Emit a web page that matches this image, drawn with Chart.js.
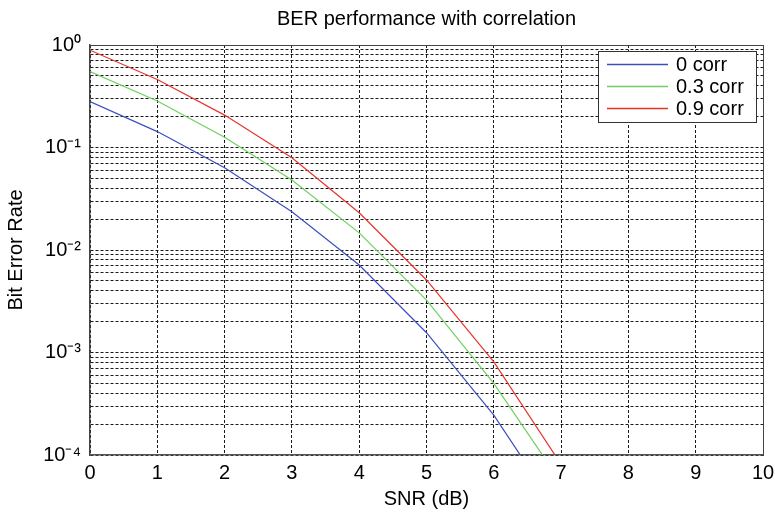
<!DOCTYPE html>
<html>
<head>
<meta charset="utf-8">
<script src="https://cdn.jsdelivr.net/npm/chart.js@4/dist/chart.umd.min.js"></script>
<style>
  html, body { margin: 0; padding: 0; background: #fff; }
  #wrap { width: 775px; height: 513px; }
</style>
</head>
<body>
<div id="wrap"><canvas id="c" width="775" height="513"></canvas></div>
<script>
// ---- data ----
const snr = [0, 1, 2, 3, 4, 5, 6, 7];
const ber0 = [0.28, 0.143, 0.0635, 0.0236, 0.00714, 0.00156, 0.000245, 0.000025];
const ber03 = [0.55, 0.284, 0.126, 0.0482, 0.0147, 0.00325, 0.0005, 0.000054];
const ber09 = [0.89, 0.46, 0.207, 0.0795, 0.0231, 0.0051, 0.00081, 0.000081];
const seriesLabels = ['0 corr', '0.3 corr', '0.9 corr'];
const xTicks = [0, 1, 2, 3, 4, 5, 6, 7, 8, 9, 10];
const yDecades = [1e-4, 1e-3, 1e-2, 1e-1, 1];
const yDecadeLabels = ['10\u207B\u2074', '10\u207B\u00B3', '10\u207B\u00B2', '10\u207B\u00B9', '10\u2070'];
const yGridValues = [
  1e-4, 2e-4, 3e-4, 4e-4, 5e-4, 6e-4, 7e-4, 8e-4, 9e-4,
  1e-3, 2e-3, 3e-3, 4e-3, 5e-3, 6e-3, 7e-3, 8e-3, 9e-3,
  1e-2, 2e-2, 3e-2, 4e-2, 5e-2, 6e-2, 7e-2, 8e-2, 9e-2,
  1e-1, 2e-1, 3e-1, 4e-1, 5e-1, 6e-1, 7e-1, 8e-1, 9e-1,
  1
];
const titleText = 'BER performance with correlation';
const xTitle = 'SNR (dB)';
const yTitle = 'Bit Error Rate';

// ---- styling ----
const FONT = 'Liberation Sans, Arial, Helvetica, sans-serif';
const FS = 20;
const colors = ['#3a4fbf', '#6fd05f', '#e8332b'];
const gridColor = '#1a1a1a';

function toPts(vals) { return snr.map((x, i) => ({ x: x, y: vals[i] })); }

const legendPlugin = {
  id: 'boxLegend',
  afterDraw(chart) {
    const { ctx, chartArea: a } = chart;
    const w = 158, h = 71;
    const x = Math.round(a.right - 7 - w), y = Math.round(a.top + 6);
    ctx.save();
    ctx.fillStyle = '#fff';
    ctx.fillRect(x, y, w, h);
    ctx.strokeStyle = '#333';
    ctx.lineWidth = 1;
    ctx.strokeRect(x + 0.5, y + 0.5, w, h);
    ctx.font = FS + 'px ' + FONT;
    ctx.textBaseline = 'middle';
    ctx.textAlign = 'left';
    chart.data.datasets.forEach((ds, i) => {
      const cy = Math.round(y + 13.3 + i * 22) + 0.5;
      ctx.strokeStyle = ds.borderColor;
      ctx.lineWidth = 1.5;
      ctx.beginPath();
      ctx.moveTo(x + 9, cy);
      ctx.lineTo(x + 70, cy);
      ctx.stroke();
      ctx.fillStyle = '#000';
      ctx.fillText(ds.label, x + 78, cy + 1);
    });
    ctx.restore();
  }
};

new Chart(document.getElementById('c'), {
  type: 'line',
  data: {
    datasets: [
      { label: seriesLabels[0], data: toPts(ber0), borderColor: colors[0], backgroundColor: colors[0] },
      { label: seriesLabels[1], data: toPts(ber03), borderColor: colors[1], backgroundColor: colors[1] },
      { label: seriesLabels[2], data: toPts(ber09), borderColor: colors[2], backgroundColor: colors[2] }
    ]
  },
  options: {
    responsive: false,
    animation: false,
    devicePixelRatio: 1,
    layout: { padding: 0 },
    elements: {
      line: { borderWidth: 1.2, tension: 0 },
      point: { radius: 0, hoverRadius: 0 }
    },
    plugins: {
      legend: { display: false },
      title: { display: false },
      tooltip: { enabled: false }
    },
    scales: {
      x: {
        type: 'linear', position: 'bottom', min: 0, max: 10,
        afterFit(s) { s.height = 58; s.paddingLeft = 0; s.paddingRight = 0; },
        afterBuildTicks(s) { s.ticks = xTicks.map(v => ({ value: v })); },
        ticks: { color: '#000', font: { family: FONT, size: FS }, padding: 6, autoSkip: false, maxRotation: 0 },
        grid: { color: gridColor, lineWidth: 1, drawTicks: false },
        border: { display: true, color: '#555', width: 1.5, dash: [3, 2] },
        title: { display: true, text: xTitle, color: '#000', font: { family: FONT, size: FS }, padding: { top: 0, bottom: 2 } }
      },
      x2: {
        type: 'linear', position: 'top', min: 0, max: 10,
        afterFit(s) { s.height = 45; s.paddingLeft = 0; s.paddingRight = 0; },
        ticks: { display: false },
        grid: { display: false, drawTicks: false },
        border: { display: true, color: '#444', width: 1 },
        title: { display: true, text: titleText, color: '#000', font: { family: FONT, size: FS }, padding: { top: 7, bottom: 0 } }
      },
      y: {
        type: 'logarithmic', position: 'left', min: 1e-4, max: 1,
        afterFit(s) { s.width = 90; s.paddingTop = 0; s.paddingBottom = 0; },
        afterBuildTicks(s) { s.ticks = yGridValues.map(v => ({ value: v })); },
        ticks: {
          color: '#000', font: { family: FONT, size: FS }, padding: 9, autoSkip: false,
          callback(v) {
            const i = yDecades.findIndex(d => Math.abs(Math.log10(v) - Math.log10(d)) < 1e-6);
            return i >= 0 ? yDecadeLabels[i] : '';
          }
        },
        grid: { color: gridColor, lineWidth: 1, drawTicks: false },
        border: { display: true, color: '#444', width: 1.5, dash: [3, 2] },
        title: { display: true, text: yTitle, color: '#000', font: { family: FONT, size: FS }, padding: { top: 4, bottom: 0 } }
      },
      y2: {
        type: 'logarithmic', position: 'right', min: 1e-4, max: 1,
        afterFit(s) { s.width = 12; },
        ticks: { display: false },
        grid: { display: false, drawTicks: false },
        border: { display: true, color: '#444', width: 1 }
      }
    }
  },
  plugins: [legendPlugin]
});
</script>
</body>
</html>
